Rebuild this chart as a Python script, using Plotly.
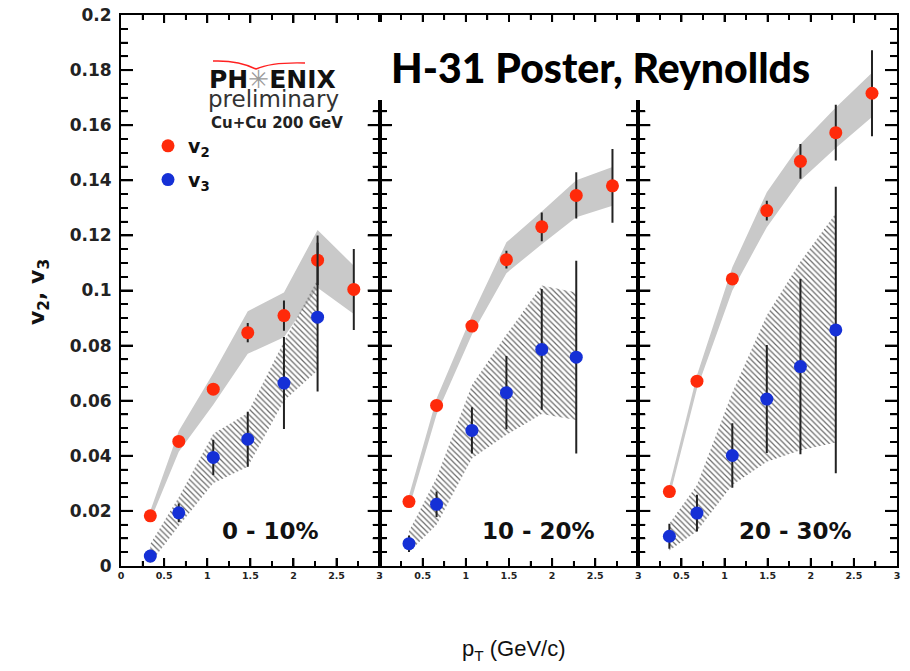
import plotly.graph_objects as go

# ---------------- data ----------------
centralities = ["0 - 10%", "10 - 20%", "20 - 30%"]

pt_c1 = [0.34, 0.67, 1.07, 1.47, 1.89, 2.28, 2.70]
v2_c1 = [0.0182, 0.0452, 0.0642, 0.0847, 0.0909, 0.1110, 0.1004]
v2_err_c1 = [0.0, 0.0, 0.0015, 0.0035, 0.0055, 0.0090, 0.0147]
v2_syslo_c1 = [0.0165, 0.0415, 0.0585, 0.0770, 0.0830, 0.1010, 0.0915]
v2_syshi_c1 = [0.0200, 0.0490, 0.0700, 0.0925, 0.0993, 0.1220, 0.1090]
v3_c1 = [0.0036, 0.0193, 0.0394, 0.0460, 0.0664, 0.0903]
v3_err_c1 = [0.0023, 0.0034, 0.0064, 0.0100, 0.0167, 0.0270]
v3_syslo_c1 = [0.0010, 0.0145, 0.0300, 0.0360, 0.0600, 0.0710]
v3_syshi_c1 = [0.0080, 0.0250, 0.0480, 0.0555, 0.0815, 0.1040]

pt_c2 = [0.34, 0.66, 1.07, 1.47, 1.88, 2.28, 2.70]
v2_c2 = [0.0234, 0.0583, 0.0871, 0.1112, 0.1231, 0.1345, 0.1380]
v2_err_c2 = [0.0, 0.0, 0.0017, 0.0032, 0.0052, 0.0084, 0.0134]
v2_syslo_c2 = [0.0210, 0.0550, 0.0840, 0.1063, 0.1168, 0.1266, 0.1308]
v2_syshi_c2 = [0.0255, 0.0608, 0.0910, 0.1175, 0.1287, 0.1400, 0.1448]
v3_c2 = [0.0081, 0.0224, 0.0492, 0.0629, 0.0786, 0.0758]
v3_err_c2 = [0.0030, 0.0046, 0.0084, 0.0133, 0.0219, 0.0350]
v3_syslo_c2 = [0.0050, 0.0150, 0.0390, 0.0476, 0.0552, 0.0530]
v3_syshi_c2 = [0.0126, 0.0320, 0.0657, 0.0840, 0.1018, 0.0993]

pt_c3 = [0.36, 0.68, 1.09, 1.49, 1.88, 2.29, 2.71]
v2_c3 = [0.0270, 0.0671, 0.1042, 0.1290, 0.1469, 0.1573, 0.1716]
v2_err_c3 = [0.0, 0.0, 0.0020, 0.0036, 0.0063, 0.0101, 0.0156]
v2_syslo_c3 = [0.0250, 0.0643, 0.1000, 0.1230, 0.1399, 0.1517, 0.1630]
v2_syshi_c3 = [0.0290, 0.0692, 0.1084, 0.1357, 0.1531, 0.1664, 0.1790]
v3_c3 = [0.0108, 0.0192, 0.0401, 0.0606, 0.0724, 0.0857]
v3_err_c3 = [0.0045, 0.0067, 0.0117, 0.0196, 0.0318, 0.0520]
v3_syslo_c3 = [0.0056, 0.0126, 0.0294, 0.0378, 0.0420, 0.0448]
v3_syshi_c3 = [0.0154, 0.0294, 0.0630, 0.0910, 0.1105, 0.1280]

panels = [
    (pt_c1, v2_c1, v2_err_c1, v2_syslo_c1, v2_syshi_c1, v3_c1, v3_err_c1, v3_syslo_c1, v3_syshi_c1),
    (pt_c2, v2_c2, v2_err_c2, v2_syslo_c2, v2_syshi_c2, v3_c2, v3_err_c2, v3_syslo_c2, v3_syshi_c2),
    (pt_c3, v2_c3, v2_err_c3, v2_syslo_c3, v2_syshi_c3, v3_c3, v3_err_c3, v3_syslo_c3, v3_syshi_c3),
]

X_RANGE = [0, 3]
Y_RANGE = [0, 0.2]

RED = "#ff2a0a"
BLUE = "#1530d6"
FONT = "Liberation Sans"
WFONT = "DejaVu Sans"
AX = "black"

fig = go.Figure()

for i, (pt, v2, v2e, v2lo, v2hi, v3, v3e, v3lo, v3hi) in enumerate(panels):
    xa = "x" if i == 0 else f"x{i+1}"
    ya = "y" if i == 0 else f"y{i+1}"
    n3 = len(v3)
    fig.add_trace(go.Scatter(
        x=pt + pt[::-1], y=v2hi + v2lo[::-1], fill="toself", mode="lines",
        line=dict(width=0), fillcolor="#c9c9c9", hoverinfo="skip",
        showlegend=False, xaxis=xa, yaxis=ya))
    fig.add_trace(go.Scatter(
        x=pt[:n3] + pt[:n3][::-1], y=v3hi + v3lo[::-1], fill="toself", mode="lines",
        line=dict(width=0), fillcolor="rgba(0,0,0,0)",
        fillpattern=dict(shape="\\", fgcolor="#6a6a6a", bgcolor="rgba(0,0,0,0)",
                         size=4, solidity=0.3),
        hoverinfo="skip", showlegend=False, xaxis=xa, yaxis=ya))
    fig.add_trace(go.Scatter(
        x=pt, y=v2, mode="markers", name="v<sub>2</sub>",
        marker=dict(color=RED, size=13),
        error_y=dict(type="data", array=v2e, color="#222222", thickness=2, width=0),
        showlegend=(i == 0), legendgroup="v2", xaxis=xa, yaxis=ya))
    fig.add_trace(go.Scatter(
        x=pt[:n3], y=v3, mode="markers", name="v<sub>3</sub>",
        marker=dict(color=BLUE, size=13),
        error_y=dict(type="data", array=v3e, color="#222222", thickness=2, width=0),
        showlegend=(i == 0), legendgroup="v3", xaxis=xa, yaxis=ya))

# ---------------- axes ----------------
domains = [[0, 1/3], [1/3, 2/3], [2/3, 1]]
layout_axes = {}
for i in range(3):
    xk = "xaxis" if i == 0 else f"xaxis{i+1}"
    yk = "yaxis" if i == 0 else f"yaxis{i+1}"
    yname = "y" if i == 0 else f"y{i+1}"
    xname = "x" if i == 0 else f"x{i+1}"
    xax = dict(
        domain=domains[i], range=X_RANGE, anchor=yname,
        dtick=0.5, ticks="inside", ticklen=8, tickwidth=2, tickcolor=AX,
        minor=dict(ticks="inside", ticklen=5, dtick=0.25, tickcolor=AX),
        showline=True, linewidth=2, linecolor=AX, mirror="ticks",
        showgrid=False, zeroline=False,
        tickfont=dict(family=WFONT, size=9.5, color="#222222", weight="bold"),
    )
    if i > 0:
        xax["labelalias"] = {"0": " "}
    layout_axes[xk] = xax
    layout_axes[yk] = dict(
        domain=[0, 1], range=Y_RANGE, anchor=xname,
        dtick=0.02, ticks="inside", ticklen=12, tickwidth=2, tickcolor=AX,
        minor=dict(ticks="inside", ticklen=7, dtick=0.005, tickcolor=AX),
        showline=True, linewidth=2, linecolor=AX, mirror="ticks",
        showgrid=False, zeroline=False,
        showticklabels=(i == 0), ticklabeloverflow="allow",
        ticklabelstandoff=4,
        tickfont=dict(family=WFONT, size=17, color="#222222", weight="bold"),
    )

# the page body has an 8 px margin; reference pixel coordinates are mapped below
OFF = 8
W, H = 910 - OFF, 671 - OFF
L = 121 - OFF
T = 15 - OFF
R = W - (897 - OFF)
B = H - (566 - OFF)
pw, ph = W - L - R, H - T - B


def px(xr):
    return (xr - OFF - L) / pw


def py(yr):
    return (H - B - (yr - OFF)) / ph


def ann(x, y, text, font, **kw):
    d = dict(x=px(x), y=py(y), xref="paper", yref="paper", text=text,
             showarrow=False, xanchor="center", yanchor="middle", font=font)
    d.update(kw)
    return d


# ---------------- inward ticks drawn as line shapes too ----------------
def xpaper(i, xv):
    d0, d1 = domains[i]
    return d0 + (d1 - d0) * (xv - X_RANGE[0]) / (X_RANGE[1] - X_RANGE[0])


def ypaper(yv):
    return (yv - Y_RANGE[0]) / (Y_RANGE[1] - Y_RANGE[0])


shapes = []
for i in range(3):
    x0p, x1p = xpaper(i, X_RANGE[0]), xpaper(i, X_RANGE[1])
    for major in (True, False):
        ylen = (12 if major else 7) / pw
        for k in range(1, 40):  # every 0.005 on the y axis
            if (k % 4 == 0) != major:
                continue
            yp = ypaper(k * 0.005)
            for xs, xe in ((x0p, x0p + ylen), (x1p, x1p - ylen)):
                shapes.append(dict(type="line", xref="paper", yref="paper",
                                   x0=xs, x1=xe, y0=yp, y1=yp, layer="above",
                                   line=dict(color=AX, width=2 if major else 1.5)))
        xlen = (8 if major else 5) / ph
        for k in range(1, 12):  # every 0.25 on the x axis
            if (k % 2 == 0) != major:
                continue
            xp = xpaper(i, k * 0.25)
            for ys, ye in ((0, xlen), (1, 1 - xlen)):
                shapes.append(dict(type="line", xref="paper", yref="paper",
                                   x0=xp, x1=xp, y0=ys, y1=ye, layer="above",
                                   line=dict(color=AX, width=2 if major else 1.5)))

shapes += [
    dict(type="rect", xref="paper", yref="paper", x0=px(367), x1=px(835),
         y0=py(100), y1=py(22), fillcolor="white", line=dict(width=0), layer="above"),
    dict(type="path", xref="paper", yref="paper",
         path=f"M {px(213)} {py(61)} Q {px(238)} {py(60)} {px(256)} {py(69)} Q {px(272)} {py(62)} {px(305)} {py(63)}",
         line=dict(color="#ff2020", width=1.5), layer="above"),
]

annotations = []
for lab, cx in zip(centralities, [270, 538, 795]):
    annotations.append(ann(cx, 531, lab, dict(family=WFONT, size=23, color="#111", weight="bold")))
annotations.append(ann(514, 650, "p<sub>T</sub> (GeV/c)", dict(family=FONT, size=22, color="#111")))
annotations.append(ann(38, 292, "v<sub>2</sub>, v<sub>3</sub>",
                       dict(family=WFONT, size=22, color="#111", weight="bold"), textangle=-90))
annotations.append(ann(272, 80, "PH<span style='color:#9a9a9a'>✳</span>ENIX",
                       dict(family=WFONT, size=25, color="#111", weight="bold")))
annotations.append(ann(273, 99, "preliminary", dict(family=WFONT, size=23, color="#333")))
annotations.append(ann(277, 123, "Cu+Cu 200 GeV", dict(family=WFONT, size=15, color="#222", weight="bold")))
annotations.append(ann(600, 68, "H-31 Poster, Reynollds",
                       dict(family="Lato", size=41, color="#000", weight=900)))

fig.update_layout(
    template="none",
    width=W, height=H,
    margin=dict(l=L, r=R, t=T, b=B, autoexpand=False),
    paper_bgcolor="white", plot_bgcolor="white",
    showlegend=True,
    legend=dict(x=px(148), y=py(127), xanchor="left", yanchor="top",
                bgcolor="rgba(0,0,0,0)", traceorder="grouped", tracegroupgap=6,
                font=dict(family=WFONT, size=19, color="#111", weight="bold")),
    annotations=annotations,
    shapes=shapes,
    **layout_axes,
)

fig.write_html("out.html")
